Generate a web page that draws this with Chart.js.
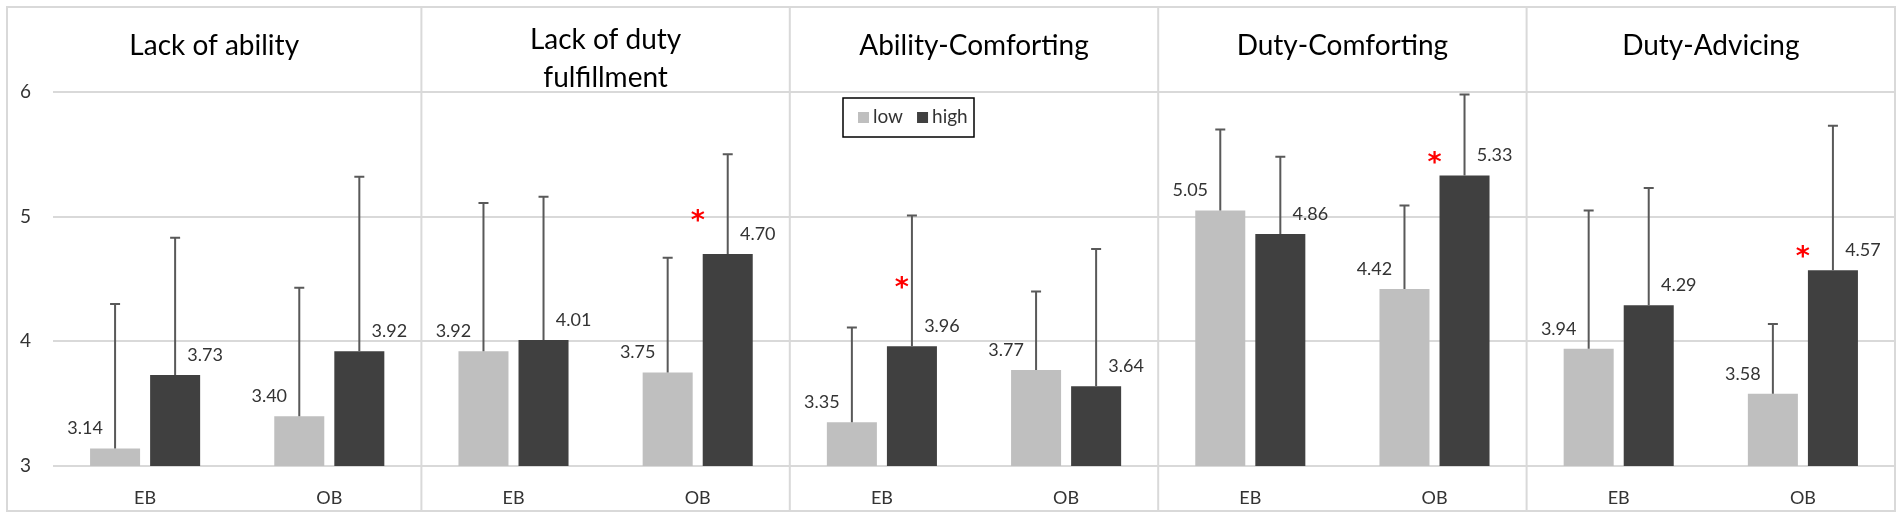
<!DOCTYPE html>
<html>
<head>
<meta charset="utf-8">
<script src="https://cdn.jsdelivr.net/npm/chart.js@4.4.0/dist/chart.umd.min.js"></script>
<style>
  html, body { margin: 0; padding: 0; background: #fff; }
  canvas { display: block; }
</style>
</head>
<body>
<canvas id="chart" width="1902" height="519"></canvas>
<script>
// panel titles (one per pair of categories)
const groups = ['Lack of ability', ['Lack of duty', 'fulfillment'], 'Ability-Comforting', 'Duty-Comforting', 'Duty-Advicing'];
const categories = ['EB', 'OB', 'EB', 'OB', 'EB', 'OB', 'EB', 'OB', 'EB', 'OB'];

const lowMeans  = [3.14, 3.40, 3.92, 3.75, 3.35, 3.77, 5.05, 4.42, 3.94, 3.58];
const highMeans = [3.73, 3.92, 4.01, 4.70, 3.96, 3.64, 4.86, 5.33, 4.29, 4.57];
// upper error bar lengths (SD)
const lowSD  = [1.16, 1.03, 1.19, 0.92, 0.76, 0.63, 0.65, 0.67, 1.11, 0.56];
const highSD = [1.10, 1.40, 1.15, 0.80, 1.05, 1.10, 0.62, 0.65, 0.94, 1.16];
// significance stars on the "high" bar, with the height they sit at
const starLevel  = [null, null, null, 5.02, 4.48, null, null, 5.49, null, 4.73];
const starAnchor = [0, 0, 0, 0, 0.4, 0, 0, 0, 0, 0];

const yTicks = [3, 4, 5, 6];

const FONT = 'Lato, "Open Sans", sans-serif';
const GRID = '#d9d9d9';

const panelPlugin = {
  id: 'panels',
  afterDatasetsDraw(chart) {
    const ctx = chart.ctx;
    const x = chart.scales.x, y = chart.scales.y;
    const top = 7, bottom = 511, left = 7, right = 1895;

    ctx.save();
    // outer frame and panel dividers
    ctx.strokeStyle = GRID;
    ctx.lineWidth = 2;
    ctx.strokeRect(left, top, right - left, bottom - top);
    const edges = [left];
    for (let g = 1; g < groups.length; g++) {
      const xd = (x.getPixelForValue(2 * g - 1) + x.getPixelForValue(2 * g)) / 2;
      edges.push(xd);
      ctx.beginPath();
      ctx.moveTo(xd, top);
      ctx.lineTo(xd, bottom);
      ctx.stroke();
    }
    edges.push(right);

    // titles
    ctx.fillStyle = '#000';
    ctx.font = '28px ' + FONT;
    ctx.textAlign = 'center';
    ctx.textBaseline = 'alphabetic';
    groups.forEach((t, g) => {
      const cx = (edges[g] + edges[g + 1]) / 2;
      if (Array.isArray(t)) {
        ctx.fillText(t[0], cx, 49);
        ctx.fillText(t[1], cx, 87);
      } else {
        ctx.fillText(t, cx, 55);
      }
    });

    // error bars
    const sds = [lowSD, highSD];
    ctx.strokeStyle = '#595959';
    ctx.lineWidth = 2;
    chart.data.datasets.forEach((ds, d) => {
      chart.getDatasetMeta(d).data.forEach((bar, i) => {
        const yt = y.getPixelForValue(ds.data[i] + sds[d][i]);
        ctx.beginPath();
        ctx.moveTo(bar.x, bar.y);
        ctx.lineTo(bar.x, yt);
        ctx.moveTo(bar.x - 5, yt);
        ctx.lineTo(bar.x + 5, yt);
        ctx.stroke();
      });
    });

    // value labels
    ctx.fillStyle = '#333';
    ctx.font = '18px ' + FONT;
    ctx.textBaseline = 'middle';
    chart.data.datasets.forEach((ds, d) => {
      chart.getDatasetMeta(d).data.forEach((bar, i) => {
        const lx = d === 0 ? bar.x - bar.width / 2 - 5 : bar.x + bar.width / 2 + 5;
        ctx.fillText(ds.data[i].toFixed(2), lx, bar.y - 20);
      });
    });

    // significance stars
    ctx.fillStyle = '#ff0000';
    ctx.font = 'bold 27px "DejaVu Sans"';
    ctx.textBaseline = 'alphabetic';
    const hi = chart.getDatasetMeta(1).data;
    starLevel.forEach((lv, i) => {
      if (lv === null) return;
      const bar = hi[i];
      const sx = bar.x - bar.width / 2 + starAnchor[i] * bar.width - 5;
      ctx.fillText('*', sx, y.getPixelForValue(lv) + 15);
    });

    // legend
    ctx.strokeStyle = '#000';
    ctx.lineWidth = 1.5;
    ctx.strokeRect(843, 98, 131, 39);
    ctx.font = '19px ' + FONT;
    ctx.textAlign = 'left';
    ctx.textBaseline = 'middle';
    let lx = 858;
    chart.data.datasets.forEach(ds => {
      ctx.fillStyle = ds.backgroundColor;
      ctx.fillRect(lx, 112, 11, 11);
      ctx.fillStyle = '#333';
      ctx.fillText(ds.label, lx + 15, 117);
      lx += 15 + ctx.measureText(ds.label).width + 14;
    });
    ctx.restore();
  }
};

new Chart(document.getElementById('chart'), {
  type: 'bar',
  data: {
    labels: categories,
    datasets: [
      { label: 'low', data: lowMeans, backgroundColor: '#bfbfbf' },
      { label: 'high', data: highMeans, backgroundColor: '#404040' }
    ]
  },
  options: {
    responsive: false,
    animation: false,
    devicePixelRatio: 1,
    categoryPercentage: 0.652,
    barPercentage: 0.833,
    layout: { padding: { left: 7, top: 92, right: 7, bottom: 8 } },
    plugins: { legend: { display: false }, tooltip: { enabled: false } },
    scales: {
      x: {
        grid: { display: false },
        border: { display: false },
        ticks: { color: '#333', font: { family: FONT, size: 18 }, padding: 13 },
        afterFit: s => { s.height = 45; }
      },
      y: {
        min: 3, max: 6,
        afterBuildTicks: s => { s.ticks = yTicks.map(v => ({ value: v })); },
        grid: { color: GRID, lineWidth: 2, drawTicks: false },
        border: { display: false },
        ticks: { color: '#333', font: { family: FONT, size: 19 }, padding: 22 },
        afterFit: s => { s.width = 46; }
      }
    }
  },
  plugins: [panelPlugin]
});
</script>
</body>
</html>
